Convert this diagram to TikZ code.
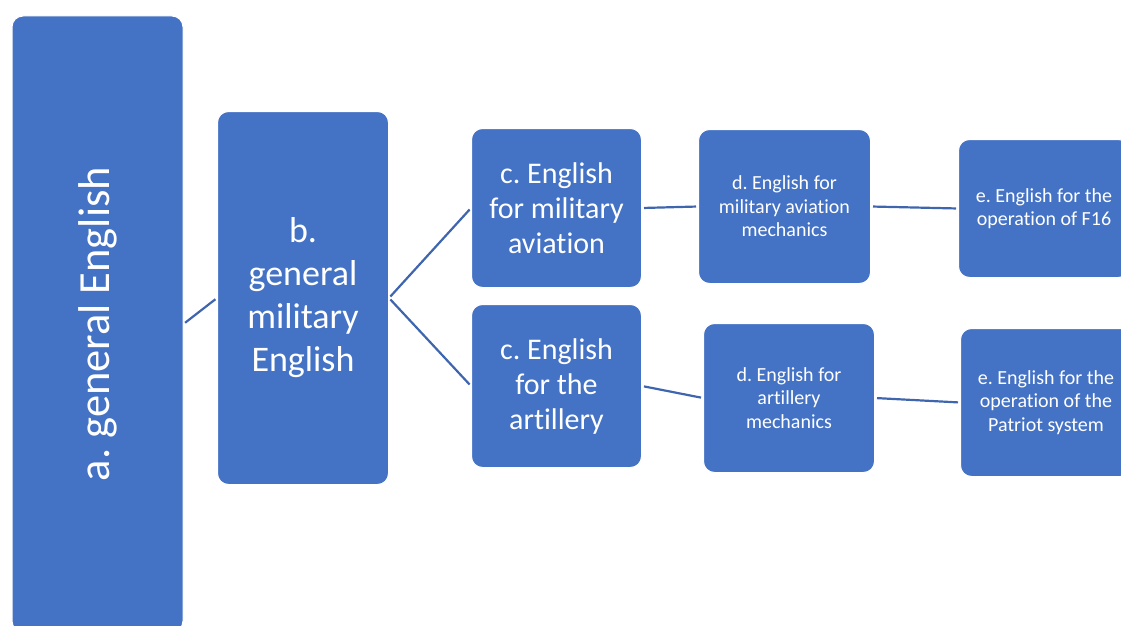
\documentclass[tikz,border=0pt]{standalone}
\usepackage{fontspec}
\setmainfont[Ligatures=NoCommon]{Carlito}
\definecolor{boxblue}{HTML}{4472C4}
\definecolor{lineblue}{HTML}{3F65AE}
\begin{document}
\frenchspacing
\begin{tikzpicture}[x=1pt,y=-1pt,
  box/.style={fill=boxblue, draw=white, line width=1pt, rounded corners=11pt, text=white, align=center, inner sep=0pt},
  nwbox/.style={box, anchor=north west},
  link/.style={draw=lineblue, line width=2.2pt, shorten >=2pt, shorten <=2pt},
  fa/.style={font=\fontsize{44.5}{52}\selectfont},
  fb/.style={font=\fontsize{36}{43}\selectfont},
  fc/.style={font=\fontsize{30}{35}\selectfont},
  fd/.style={font=\fontsize{20}{23.5}\selectfont}]
\useasboundingbox (0,0) rectangle (1121,626);
\node[box, rotate=90, minimum width=616pt, minimum height=171pt, fa] (a) at (97.5,324) {a. general English};
\node[nwbox, minimum width=171pt, minimum height=373pt, fb] (b) at (217,111) {b.\\general\\military\\English};
\node[nwbox, minimum width=170pt, minimum height=159pt, fc] (c1) at (471,128) {c. English\\for military\\aviation};
\node[nwbox, minimum width=170pt, minimum height=163pt, fc] (c2) at (471,304) {c. English\\for the\\artillery};
\node[nwbox, minimum width=172pt, minimum height=154pt, fd] (d1) at (698,129) {d. English for\\military aviation\\mechanics};
\node[nwbox, minimum width=171pt, minimum height=149pt, fd] (d2) at (703,323) {d. English for\\artillery\\mechanics};
\node[nwbox, minimum width=171pt, minimum height=138pt, fd] (e1) at (958,139) {e. English for the\\operation of F16};
\node[nwbox, minimum width=171pt, minimum height=148pt, fd] (e2) at (960,328) {e. English for the\\operation of the\\Patriot system};
\draw[link] (a.south) -- (b.west);
\draw[link] (b.east) -- (c1.west);
\draw[link] (b.east) -- (c2.west);
\draw[link] (c1.east) -- (d1.west);
\draw[link] (c2.east) -- (d2.west);
\draw[link] (d1.east) -- (e1.west);
\draw[link] (d2.east) -- (e2.west);
\end{tikzpicture}
\end{document}
